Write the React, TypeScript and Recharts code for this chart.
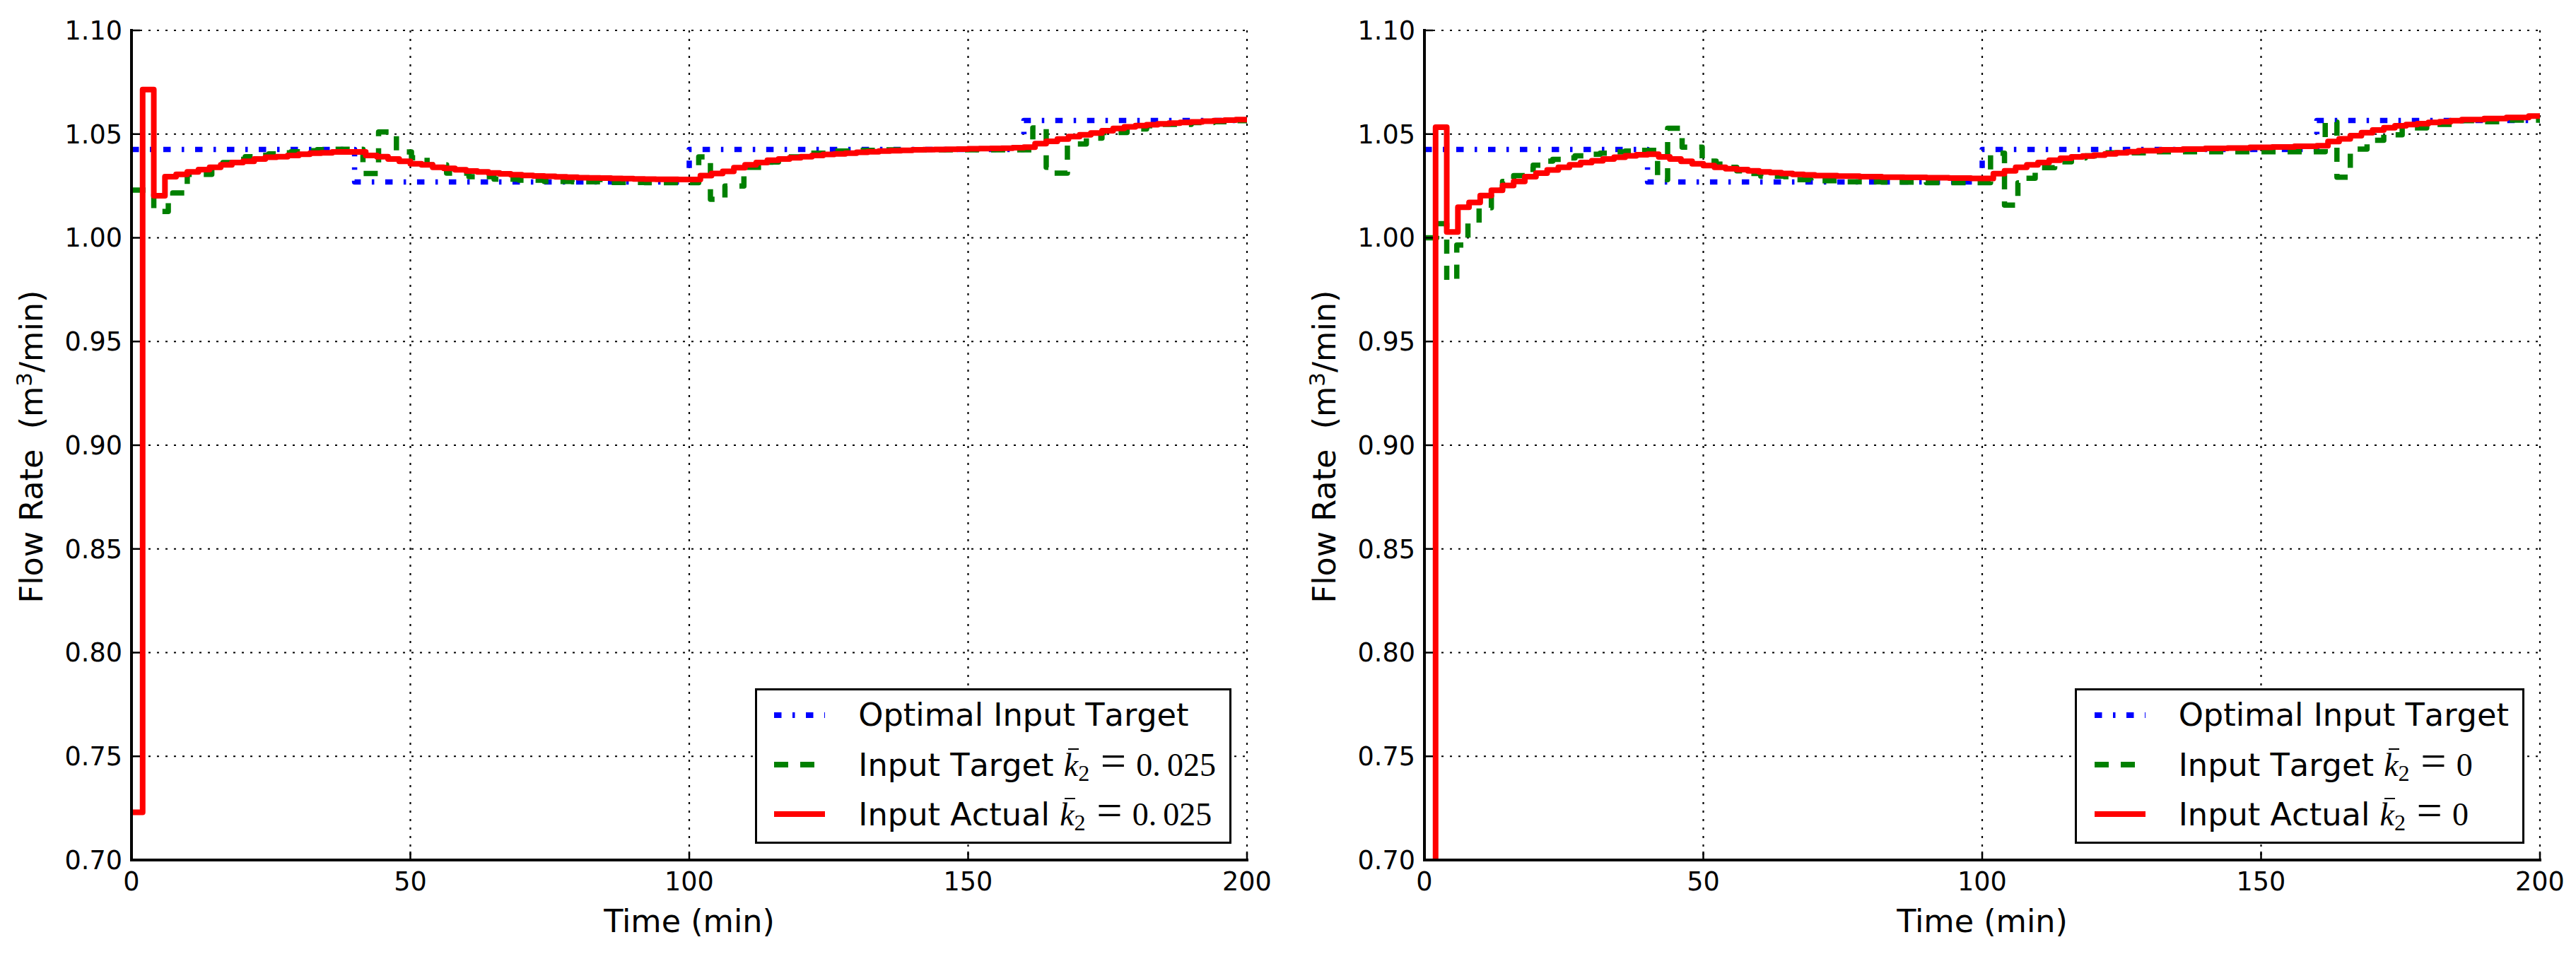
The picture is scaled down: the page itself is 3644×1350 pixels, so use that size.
import React from 'react';
import { LineChart, Line, XAxis, YAxis, CartesianGrid } from 'recharts';

type Pt = [number, number];

const X_TICKS = [0, 50, 100, 150, 200];
const Y_TICKS = [0.7, 0.75, 0.8, 0.85, 0.9, 0.95, 1.0, 1.05, 1.1];

// optimal input target, same in both panels (time, flow)
const OPTIMAL_TARGET: Pt[] = [
  [0, 1.0426], [40, 1.0269], [100, 1.0426], [160, 1.0566], [200, 1.0566],
];

// left panel, k2 = 0.025
const LEFT_TARGET: Pt[] = [
  [0, 1.023], [4, 1.0127], [6.6, 1.0195], [7.4, 1.0216], [10, 1.0306], [14.4, 1.0335],
  [16.4, 1.0363], [18.7, 1.0378], [20.4, 1.0391], [22.6, 1.0398], [24.6, 1.0405],
  [26.8, 1.041], [28.6, 1.0415], [31.2, 1.042], [33.3, 1.0425], [36, 1.0427],
  [41.5, 1.031], [44.3, 1.051], [47.5, 1.0414], [50.2, 1.0386], [53, 1.0352],
  [56.5, 1.0312], [60.5, 1.0295], [65, 1.0283], [69.5, 1.0278], [74, 1.0272],
  [79, 1.027], [84, 1.0267], [92, 1.0266], [101.7, 1.039], [103.8, 1.0186],
  [106.4, 1.025], [109.8, 1.034], [114.6, 1.0365], [116, 1.039], [120, 1.0408],
  [124.5, 1.0418], [129, 1.0422], [134, 1.0424], [161.6, 1.053], [164, 1.034],
  [165.5, 1.0312], [167.8, 1.0452], [171.2, 1.048], [174, 1.0508], [178.5, 1.0525],
  [182, 1.054], [184.5, 1.0547], [190, 1.0555], [194, 1.056], [198, 1.0565], [200, 1.0565],
];

const LEFT_ACTUAL: Pt[] = [
  [0, 0.723], [2, 1.0715], [4, 1.0203], [6, 1.0295], [8, 1.0306], [10, 1.0318],
  [12, 1.0329], [14, 1.034], [16, 1.0352], [18, 1.0363], [20, 1.0369], [22, 1.038],
  [24, 1.0388], [26, 1.0391], [28, 1.0397], [30, 1.0403], [32, 1.0408], [34, 1.041],
  [36, 1.0414], [42, 1.0397], [44, 1.0391], [46, 1.038], [48, 1.0369], [50, 1.0357],
  [52, 1.0352], [54, 1.034], [56, 1.0335], [58, 1.0328], [60, 1.0322], [62, 1.0318],
  [64, 1.0313], [66, 1.0308], [68, 1.0304], [70, 1.0301], [72, 1.0298], [74, 1.0296],
  [76, 1.0294], [78, 1.0292], [80, 1.029], [82, 1.0289], [84, 1.0288], [86, 1.0286],
  [88, 1.0285], [90, 1.0284], [92, 1.0283], [94, 1.0282], [98, 1.0281], [102, 1.03],
  [104, 1.031], [106, 1.032], [108, 1.0338], [110, 1.0352], [112, 1.0363], [114, 1.0374],
  [116, 1.038], [118, 1.0386], [120, 1.0391], [122, 1.0397], [124, 1.0402], [126, 1.0405],
  [128, 1.0408], [130, 1.0412], [132, 1.0415], [134, 1.0418], [136, 1.042], [138, 1.0422],
  [140, 1.0424], [142, 1.0425], [144, 1.0426], [146, 1.0427], [148, 1.0428], [150, 1.0429],
  [152, 1.043], [154, 1.0431], [156, 1.0432], [158, 1.0434], [160, 1.0437], [162, 1.0454],
  [164, 1.0465], [166, 1.0476], [168, 1.0488], [170, 1.0497], [172, 1.0505], [174, 1.0516],
  [176, 1.0527], [178, 1.0535], [180, 1.0541], [182, 1.0545], [184, 1.0549], [186, 1.0553],
  [188, 1.0556], [190, 1.0559], [192, 1.0562], [194, 1.0565], [196, 1.0567], [198, 1.057],
  [200, 1.0573],
];

// right panel, k2 = 0
const RIGHT_TARGET: Pt[] = [
  [0, 1.0], [2.2, 1.0068], [4, 0.9795], [5.8, 0.9965], [7.8, 1.0073], [9.8, 1.0145],
  [12, 1.023], [14, 1.0272], [16, 1.03], [17.5, 1.033], [19.5, 1.035], [21.2, 1.037],
  [23, 1.0378], [24.9, 1.0385], [27, 1.0395], [28.8, 1.0403], [31.5, 1.0408],
  [33.6, 1.0414], [36, 1.0418], [38.2, 1.0422], [41.8, 1.028], [43.6, 1.0528],
  [46.2, 1.0437], [49.8, 1.037], [52.3, 1.0355], [54.5, 1.034], [56, 1.0323],
  [58.5, 1.031], [60.3, 1.0297], [64.8, 1.028], [69.3, 1.0275], [74, 1.027],
  [82, 1.0268], [90, 1.0266], [101.5, 1.0408], [104, 1.0158], [106.4, 1.0265],
  [107.5, 1.0287], [109.5, 1.0338], [113, 1.0366], [116, 1.0385], [118.5, 1.0395],
  [121.4, 1.041], [130, 1.0415], [161.5, 1.0558], [163.6, 1.0292], [166, 1.0428],
  [169, 1.047], [172, 1.0497], [175.3, 1.053], [179.7, 1.0547], [185, 1.0565],
  [189.2, 1.056], [193.6, 1.0567], [200, 1.0567],
];

const RIGHT_ACTUAL: Pt[] = [
  [0, 0.65], [2, 1.0533], [4, 1.0028], [6, 1.0147], [8, 1.017], [10, 1.0204],
  [12, 1.0229], [14, 1.0252], [16, 1.0272], [18, 1.0295], [20, 1.0312], [22, 1.0327],
  [24, 1.034], [26, 1.0352], [28, 1.0363], [30, 1.0371], [32, 1.038], [34, 1.0388],
  [36, 1.0395], [38, 1.04], [40, 1.0403], [42, 1.039], [44, 1.038], [46, 1.0369],
  [48, 1.0357], [50, 1.0348], [52, 1.034], [54, 1.0333], [56, 1.0329], [58, 1.0323],
  [60, 1.0318], [62, 1.0314], [64, 1.031], [66, 1.0306], [68, 1.0303], [70, 1.03],
  [74, 1.0297], [78, 1.0295], [82, 1.0292], [86, 1.0291], [90, 1.029], [94, 1.0288],
  [98, 1.0286], [102, 1.0309], [104, 1.0323], [106, 1.034], [108, 1.0352], [110, 1.0363],
  [112, 1.0374], [114, 1.0383], [116, 1.039], [118, 1.0394], [120, 1.0399], [122, 1.0405],
  [124, 1.041], [126, 1.0415], [128, 1.042], [132, 1.0424], [136, 1.0428], [140, 1.0431],
  [144, 1.0433], [148, 1.0436], [152, 1.0438], [156, 1.0441], [160, 1.0444], [162, 1.0464],
  [164, 1.0477], [166, 1.0492], [168, 1.0507], [170, 1.052], [172, 1.0531], [174, 1.054],
  [176, 1.0546], [178, 1.055], [180, 1.0556], [182, 1.056], [184, 1.0565], [186, 1.057],
  [190, 1.0575], [194, 1.058], [198, 1.0587], [200, 1.0587],
];

const FONT = '"DejaVu Sans", sans-serif';
const PANEL_W = 1800;
const PANEL_H = 1350;
const PLOT_L = 186;
const PLOT_T = 43;
const PLOT_R = 1764;
const PLOT_B = 1217;

const BLUE = '#0000ff';
const GREEN = '#008000';
const RED = '#ff0000';
const DASH_DOT = '10.5 15.5 3.5 15.5';
const DASHED = '20 17';

const toPoints = (arr: Pt[]) => arr.map(([t, v]) => ({ t, v }));

// k-bar sub 2 = value, drawn like mathtext
function K2({ value }: { value: string }) {
  return (
    <span style={{ fontFamily: '"Liberation Serif", serif', fontSize: 46, whiteSpace: 'pre' }}>
      <span style={{ position: 'relative', fontStyle: 'italic' }}>
        k
        <span
          style={{
            position: 'absolute',
            left: '0.14em',
            top: '0.05em',
            width: '0.33em',
            borderTop: '2.5px solid #000',
          }}
        />
      </span>
      <span style={{ fontSize: '0.7em', position: 'relative', top: '0.24em' }}>2</span>
      <span style={{ margin: '0 0.22em 0 0.24em', fontSize: '1.4em', lineHeight: 0 }}>=</span>
      {value}
    </span>
  );
}

function LegendBox({ k2 }: { k2: string }) {
  const rows = [
    { color: BLUE, dash: DASH_DOT, label: 'Optimal Input Target', math: false },
    { color: GREEN, dash: DASHED, label: 'Input Target ', math: true },
    { color: RED, dash: undefined, label: 'Input Actual ', math: true },
  ];
  return (
    <div
      style={{
        position: 'absolute',
        right: PANEL_W - PLOT_R + 22,
        bottom: PANEL_H - PLOT_B + 23,
        height: 220,
        boxSizing: 'border-box',
        border: '3.5px solid #000',
        background: '#fff',
        paddingRight: 19,
      }}
    >
      {rows.map((r) => (
        <div key={r.label} style={{ display: 'flex', alignItems: 'center', height: 70 }}>
          <svg width={72} height={12} style={{ marginLeft: 24.5, flexShrink: 0 }}>
            <line x1={0} y1={6} x2={72} y2={6} stroke={r.color} strokeWidth={8}
              strokeDasharray={r.dash} />
          </svg>
          <span
            style={{
              marginLeft: 47,
              fontFamily: FONT,
              fontSize: 44.7,
              whiteSpace: 'pre',
              fontKerning: 'none',
            }}
          >
            {r.label}
            {r.math ? <K2 value={k2} /> : null}
          </span>
        </div>
      ))}
    </div>
  );
}

function Panel({ left, target, actual, k2 }: { left: number; target: Pt[]; actual: Pt[]; k2: string }) {
  const tickStyle = { fill: '#000', fontSize: 36.6, fontFamily: FONT };
  const axisLine = { stroke: '#000', strokeWidth: 4, strokeLinecap: 'square' as const };
  const tickLine = { stroke: '#000', strokeWidth: 2.5 };
  return (
    <div style={{ position: 'absolute', left, top: 0, width: PANEL_W, height: PANEL_H }}>
      <LineChart
        width={PANEL_W}
        height={PANEL_H}
        margin={{ top: PLOT_T, right: PANEL_W - PLOT_R, bottom: PANEL_H - PLOT_B - 60, left: PLOT_L - 150 }}
      >
        <CartesianGrid stroke="#000" strokeWidth={2.2} strokeDasharray="3 9" />
        <Line data={toPoints(OPTIMAL_TARGET)} dataKey="v" type="stepAfter" stroke={BLUE}
          strokeWidth={7.5} strokeDasharray={DASH_DOT} strokeLinejoin="round" dot={false}
          activeDot={false} isAnimationActive={false} />
        <Line data={toPoints(target)} dataKey="v" type="stepAfter" stroke={GREEN}
          strokeWidth={7.5} strokeDasharray={DASHED} strokeLinejoin="round" dot={false}
          activeDot={false} isAnimationActive={false} />
        <Line data={toPoints(actual)} dataKey="v" type="stepAfter" stroke={RED}
          strokeWidth={8} strokeLinejoin="round" dot={false} activeDot={false}
          isAnimationActive={false} />
        <XAxis dataKey="t" type="number" domain={[0, 200]} ticks={X_TICKS} interval={0}
          allowDataOverflow height={60} tickSize={-12} tickMargin={29} tick={tickStyle}
          axisLine={axisLine} tickLine={tickLine}
          label={() => (
            <text x={(PLOT_L + PLOT_R) / 2} y={1319} textAnchor="middle" fontSize={44.5}
              fontFamily={FONT} fill="#000">Time (min)</text>
          )} />
        <XAxis xAxisId="top" orientation="top" dataKey="t" type="number" domain={[0, 200]}
          ticks={X_TICKS} interval={0} allowDataOverflow height={0} tickSize={-12}
          tick={false} axisLine={axisLine} tickLine={tickLine} />
        <YAxis type="number" domain={[0.7, 1.1]} ticks={Y_TICKS} interval={0} allowDataOverflow
          width={150} tickSize={-12} tickMargin={25} tick={tickStyle}
          tickFormatter={(v: number) => v.toFixed(2)} axisLine={axisLine} tickLine={tickLine}
          label={() => (
            <text x={60} y={632} transform="rotate(-90 60 632)" textAnchor="middle"
              fontSize={44.5} fontFamily={FONT} fill="#000">
              {'Flow Rate\u00a0\u00a0(m'}
              <tspan dy={-15} fontSize={31}>3</tspan>
              <tspan dy={15}>/min)</tspan>
            </text>
          )} />
        <YAxis yAxisId="right" orientation="right" type="number" domain={[0.7, 1.1]}
          ticks={Y_TICKS} interval={0} allowDataOverflow width={0} tickSize={-12}
          tick={false} axisLine={axisLine} tickLine={tickLine} />
      </LineChart>
      <LegendBox k2={k2} />
    </div>
  );
}

export default function App() {
  return (
    <div style={{ position: 'absolute', left: 0, top: 0, width: 3644, height: 1350, background: '#fff', overflow: 'hidden' }}>
      <Panel left={0} target={LEFT_TARGET} actual={LEFT_ACTUAL} k2={'0.\u2009025'} />
      <Panel left={1829} target={RIGHT_TARGET} actual={RIGHT_ACTUAL} k2="0" />
    </div>
  );
}
